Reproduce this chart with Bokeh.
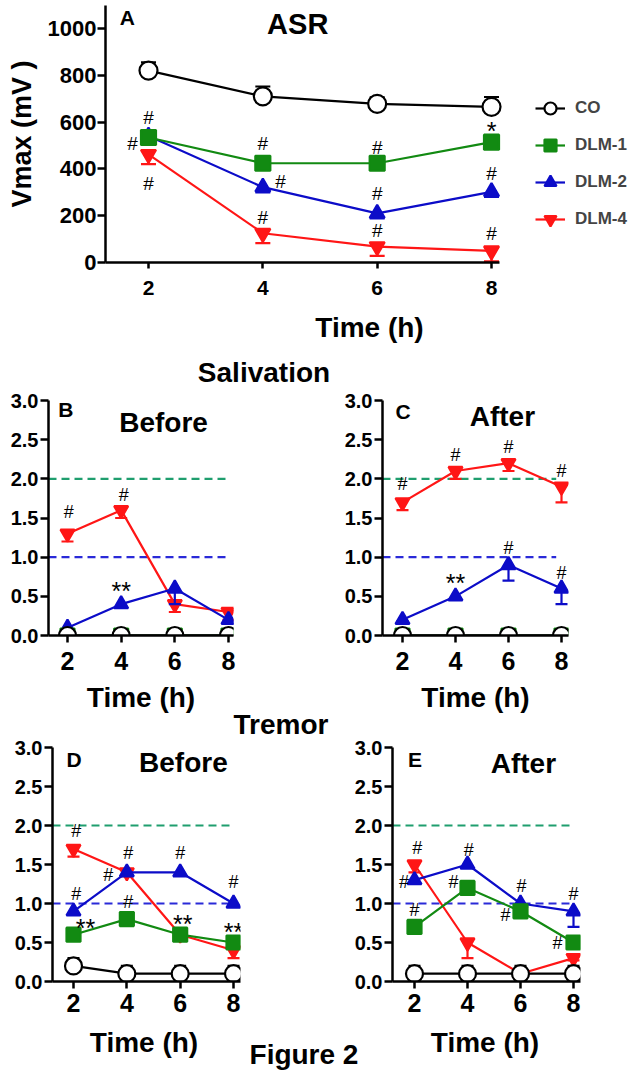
import numpy as np
from bokeh.plotting import figure
from bokeh.models import (Range1d, FixedTicker, Label, Legend, LegendItem,
                          PrintfTickFormatter, Div)
from bokeh.layouts import column, row
from bokeh.embed import file_html
from bokeh.resources import INLINE
from bokeh.core.properties import value

FONT = "Liberation Sans"

# ---------------- data ----------------
time_h = [2, 4, 6, 8]
groups = ["CO", "DLM-1", "DLM-2", "DLM-4"]

# Panel A: ASR, Vmax (mV)
asr = {
    "CO":    [820, 710, 678, 665],
    "DLM-1": [534, 424, 424, 514],
    "DLM-2": [540, 322, 210, 302],
    "DLM-4": [462, 125, 68, 50],
}
asr_err = {
    "CO":    [35, 42, 28, 42],
    "DLM-1": [22, 22, 22, 22],
    "DLM-2": [18, 22, 22, 22],
    "DLM-4": [42, 42, 40, 45],
}
asr_ticks = [0, 200, 400, 600, 800, 1000]

# Panel B: Salivation, before
sal_before = {
    "CO":    [0, 0, 0, 0],
    "DLM-1": [0, 0, 0, 0],
    "DLM-2": [0.1, 0.4, 0.6, 0.2],
    "DLM-4": [1.3, 1.6, 0.4, 0.3],
}
sal_before_err = {
    "CO":    [0, 0, 0, 0],
    "DLM-1": [0, 0, 0, 0],
    "DLM-2": [0.02, 0.03, 0.2, 0.05],
    "DLM-4": [0.1, 0.1, 0.1, 0.1],
}
# Panel C: Salivation, after
sal_after = {
    "CO":    [0, 0, 0, 0],
    "DLM-1": [0, 0, 0, 0],
    "DLM-2": [0.2, 0.5, 0.9, 0.6],
    "DLM-4": [1.7, 2.1, 2.2, 1.9],
}
sal_after_err = {
    "CO":    [0, 0, 0, 0],
    "DLM-1": [0, 0, 0, 0],
    "DLM-2": [0.02, 0.03, 0.2, 0.2],
    "DLM-4": [0.1, 0.1, 0.1, 0.2],
}
# Panel D: Tremor, before
tre_before = {
    "CO":    [0.2, 0.1, 0.1, 0.1],
    "DLM-1": [0.6, 0.8, 0.6, 0.5],
    "DLM-2": [0.9, 1.4, 1.4, 1.0],
    "DLM-4": [1.7, 1.4, 0.6, 0.4],
}
tre_before_err = {
    "CO":    [0.1, 0.1, 0.1, 0.1],
    "DLM-1": [0.03, 0.03, 0.03, 0.03],
    "DLM-2": [0.03, 0.03, 0.03, 0.03],
    "DLM-4": [0.1, 0.05, 0.05, 0.1],
}
# Panel E: Tremor, after
tre_after = {
    "CO":    [0.1, 0.1, 0.1, 0.1],
    "DLM-1": [0.7, 1.2, 0.9, 0.5],
    "DLM-2": [1.3, 1.5, 1.0, 0.9],
    "DLM-4": [1.5, 0.5, 0.1, 0.3],
}
tre_after_err = {
    "CO":    [0.1, 0.1, 0.1, 0.1],
    "DLM-1": [0.03, 0.03, 0.03, 0.03],
    "DLM-2": [0.03, 0.03, 0.03, 0.2],
    "DLM-4": [0.1, 0.2, 0.1, 0.03],
}
score_ticks = [0, 0.5, 1.0, 1.5, 2.0, 2.5, 3.0]
ref_levels = [2.0, 1.0]

# significance marks (x, y, text)
ann_a = [(2, 620, "#"), (1.72, 508, "#"), (2, 338, "#"), (4, 508, "#"), (4.31, 346, "#"),
         (4, 192, "#"), (6, 491, "#"), (6, 295, "#"), (6, 137, "#"), (8, 560, "*"),
         (8, 380, "#"), (8, 124, "#")]
ann_b = [(2.05, 1.58, "#"), (4.1, 1.80, "#"), (4.0, 0.57, "**")]
ann_c = [(2.0, 1.93, "#"), (4.0, 2.3, "#"), (6.0, 2.41, "#"), (8.0, 2.1, "#"),
         (4.0, 0.67, "**"), (6.0, 1.12, "#"), (8.0, 0.8, "#")]
ann_d = [(2.1, 1.93, "#"), (2.1, 1.12, "#"), (2.45, 0.68, "**"), (3.3, 1.37, "#"),
         (4.05, 1.65, "#"), (4.05, 1.02, "#"), (6.0, 1.65, "#"), (6.1, 0.74, "**"),
         (8.0, 1.27, "#"), (8.0, 0.64, "**")]
ann_e = [(2.1, 1.71, "#"), (1.6, 1.27, "#"), (2.0, 0.92, "#"), (4.05, 1.68, "#"),
         (3.47, 1.27, "#"), (6.04, 1.23, "#"), (5.43, 0.85, "#"), (8.0, 1.12, "#"),
         (7.4, 0.49, "#")]

# ---------------- styles ----------------
COLORS = {"CO": "black", "DLM-1": "#128a12", "DLM-2": "#0c0cc8", "DLM-4": "#ff1616"}
FILLS = {"CO": "white", "DLM-1": "#128a12", "DLM-2": "#0c0cc8", "DLM-4": "#ff1616"}
MARKERS = {"CO": "circle", "DLM-1": "square", "DLM-2": "triangle", "DLM-4": "inverted_triangle"}
ERR_DIR = {"CO": 1, "DLM-1": -1, "DLM-2": -1, "DLM-4": -1}
DRAW_ORDER = ["DLM-4", "DLM-2", "DLM-1", "CO"]
REF_COLORS = ["#1f9e6e", "#2a2ad8"]


def make_fig(width, height, mb, xr, yr, yticks, big, tick_standoff, label_standoff,
             xlabel=True, xbounds=None):
    p = figure(width=width, height=height, title=None, toolbar_location=None,
               output_backend="svg", x_range=Range1d(*xr), y_range=Range1d(*yr),
               min_border_left=mb[0], min_border_right=mb[1],
               min_border_top=mb[2], min_border_bottom=mb[3])
    p.outline_line_color = None
    p.xgrid.visible = False
    p.ygrid.visible = False
    p.background_fill_color = "white"
    p.border_fill_color = "white"
    for ax in (p.xaxis[0], p.yaxis[0]):
        ax.axis_line_width = 2.5
        ax.major_tick_line_width = 2.5
        ax.major_tick_in = 0
        ax.minor_tick_out = 0
        ax.minor_tick_in = 0
        ax.major_label_text_font = FONT
        ax.major_label_text_font_style = "bold"
        ax.major_label_text_color = "black"
        ax.axis_label_text_font = FONT
        ax.axis_label_text_font_style = "bold"
        ax.axis_label_text_color = "black"
    p.xaxis.ticker = FixedTicker(ticks=time_h)
    p.yaxis.ticker = FixedTicker(ticks=yticks)
    if xbounds is not None:
        p.xaxis.bounds = xbounds
    if xlabel:
        p.xaxis.axis_label = "Time (h)"
        p.xaxis.axis_label_text_font_size = "28px"
        p.xaxis.axis_label_standoff = label_standoff
    p.xaxis.major_label_standoff = tick_standoff
    if big:
        p.xaxis.major_tick_out = 6
        p.yaxis.major_tick_out = 8
        p.xaxis.major_label_text_font_size = "21px"
        p.yaxis.major_label_text_font_size = "22px"
        p.yaxis.major_label_standoff = 1
    else:
        p.xaxis.major_tick_out = 7
        p.yaxis.major_tick_out = 8
        p.xaxis.major_label_text_font_size = "25px"
        p.yaxis.major_label_text_font_size = "20px"
        p.yaxis.major_label_standoff = 2
        p.yaxis.formatter = PrintfTickFormatter(format="%.1f")
    return p


def draw_series(p, data, err, msize, lw, cap):
    rends = {}
    for g in DRAW_ORDER:
        y = np.array(data[g], dtype=float)
        e = np.array(err[g], dtype=float)
        y_end = y + ERR_DIR[g] * e
        r_line = p.line(time_h, y, line_color=COLORS[g], line_width=lw)
        p.segment(x0=time_h, y0=y, x1=time_h, y1=y_end, line_color=COLORS[g], line_width=lw)
        p.scatter(x=time_h, y=y_end, marker="dash", size=cap, line_color=COLORS[g], line_width=lw)
        sz = msize + (3 if g == "CO" else 0)
        r_mark = p.scatter(x=time_h, y=y, marker=MARKERS[g], size=sz,
                           fill_color=FILLS[g], line_color=COLORS[g], line_width=lw)
        rends[g] = (r_line, r_mark)
    return rends


def add_refs(p, x0, x1):
    for lvl, col in zip(ref_levels, REF_COLORS):
        p.segment(x0=[x0], y0=[lvl], x1=[x1], y1=[lvl], line_color=col,
                  line_width=2.2, line_dash="8 5")


def add_marks(p, ann, size, star_size="25px"):
    for sym, fs in (("#", size), ("*", star_size), ("**", star_size)):
        sel = [a for a in ann if a[2] == sym]
        if not sel:
            continue
        p.text(x=[a[0] for a in sel], y=[a[1] for a in sel], text=[a[2] for a in sel],
               text_font=value(FONT), text_font_size=fs,
               text_align="center", text_baseline="middle", text_color="black")


def add_label(p, x, y, text, size, bold=True):
    p.add_layout(Label(x=x, y=y, text=text, text_font=FONT, text_font_size=size,
                       text_font_style="bold" if bold else "normal", text_color="black",
                       text_align="center", text_baseline="middle"))


def text_div(width, height, items):
    parts = []
    for (cx, top, txt, fs, lh) in items:
        parts.append(
            f'<div style="position:absolute;left:{cx - 110}px;top:{top}px;width:220px;'
            f'text-align:center;font-family:\'Liberation Sans\';font-size:{fs}px;'
            f'font-weight:bold;line-height:{lh}px;white-space:nowrap;color:#000">{txt}</div>')
    html = (f'<div style="position:relative;width:{width}px;height:{height}px">'
            + "".join(parts) + '</div>')
    return Div(text=html, width=width, height=height, margin=0)


W = 633

# ---------------- Panel A ----------------
a_x0 = 1.248
a_x1 = a_x0 + (W - 105) / 57.17
pa = make_fig(W, 345, (105, 0, 5, 83), (a_x0, a_x1), (0, 1098), asr_ticks, True,
              12, 14, xbounds=(a_x0, 8.14))
pa.yaxis.axis_label = "Vmax (mV )"
pa.yaxis.axis_label_text_font_size = "27px"
pa.yaxis.axis_label_standoff = 8
rends = draw_series(pa, asr, asr_err, 15, 2.2, 15)
add_marks(pa, ann_a, "19px")
add_label(pa, 1.63, 1045, "A", "21px")
add_label(pa, 4.61, 1019, "ASR", "29px")

items = [LegendItem(label=g, renderers=list(rends[g])) for g in groups]
legend = Legend(items=items, location=(430, 27), orientation="vertical",
                glyph_width=30, glyph_height=32, label_height=32, spacing=5,
                label_standoff=10, padding=0, margin=0, border_line_color=None,
                background_fill_alpha=0, label_text_font=FONT,
                label_text_font_style="bold", label_text_font_size="17px")
pa.add_layout(legend, "center")

div_sal = text_div(W, 45, [(264, 14, "Salivation", 28, 28)])

# ---------------- Panel B ----------------
pb = make_fig(335, 325, (48, 102, 10, 77), (1.292, 8.187), (0, 3.0), score_ticks, False, 9, 9)
add_refs(pb, 1.292, 8.0)
draw_series(pb, sal_before, sal_before_err, 14, 2.2, 12)
add_marks(pb, ann_b, "18px")
add_label(pb, 1.94, 2.88, "B", "21px")
add_label(pb, 5.58, 2.72, "Before", "28px")

# ---------------- Panel C ----------------
pc = make_fig(298, 325, (47, 65, 10, 77), (1.245, 8.264), (0, 3.0), score_ticks, False, 9, 9)
add_refs(pc, 1.245, 7.8)
draw_series(pc, sal_after, sal_after_err, 14, 2.2, 12)
add_marks(pc, ann_c, "18px")
add_label(pc, 2.02, 2.86, "C", "21px")
add_label(pc, 5.77, 2.79, "After", "28px")

div_tre = text_div(W, 20, [(281, 0, "Tremor", 28, 20)])

# ---------------- Panel D ----------------
pd_ = make_fig(348, 293, (52, 108, 12, 47), (1.2125, 8.262), (0, 3.0), score_ticks, False, 5, 0,
               xlabel=False)
add_refs(pd_, 1.2125, 8.0)
draw_series(pd_, tre_before, tre_before_err, 14, 2.2, 12)
add_marks(pd_, ann_d, "18px")
add_label(pd_, 2.02, 2.84, "D", "21px")
add_label(pd_, 6.12, 2.81, "Before", "28px")

# ---------------- Panel E ----------------
pe = make_fig(285, 293, (44, 53, 12, 47), (1.17, 8.264), (0, 3.0), score_ticks, False, 5, 0,
              xlabel=False)
add_refs(pe, 1.17, 8.0)
draw_series(pe, tre_after, tre_after_err, 14, 2.2, 12)
add_marks(pe, ann_e, "18px")
add_label(pe, 2.02, 2.84, "E", "21px")
add_label(pe, 6.11, 2.79, "After", "28px")

div_bottom = text_div(W, 47, [(144, 1, "Time (h)", 28, 28),
                              (485, 1, "Time (h)", 28, 28),
                              (304, 13, "Figure 2", 28, 28)])

layout = column(pa, div_sal, row(pb, pc, spacing=0), div_tre,
                row(pd_, pe, spacing=0), div_bottom, spacing=0)

with open("out.html", "w") as f:
    f.write(file_html(layout, INLINE))
